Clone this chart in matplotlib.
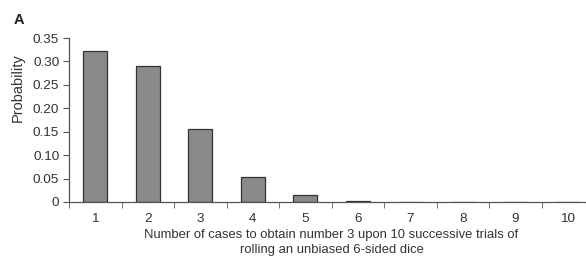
import numpy as np
import matplotlib.pyplot as plt
import matplotlib

matplotlib.rcParams['font.family'] = 'Liberation Sans'
matplotlib.rcParams.update({'font.size': 9.7})

cases = [1, 2, 3, 4, 5, 6, 7, 8, 9, 10]
probability = [0.323, 0.291, 0.156, 0.054, 0.014, 0.003, 0.001, 0.001, 0.001, 0.0]
y_ticks = [0, 0.05, 0.10, 0.15, 0.20, 0.25, 0.30, 0.35]
y_tick_labels = ['0', '0.05', '0.10', '0.15', '0.20', '0.25', '0.30', '0.35']

txt = '#333333'
fig = plt.figure(figsize=(5.86, 2.59), dpi=100)
ax = fig.add_axes([69 / 586, 57 / 259, 525 / 586, 164 / 259])

ax.bar(cases, probability, width=0.45, color='#8a8a8a', edgecolor='#333333', linewidth=0.9)

ax.set_xlim(0.5, 10.5)
ax.set_ylim(0, 0.35)
ax.set_xticks(cases)
ax.set_xticklabels([str(c) for c in cases], color=txt)
ax.set_xticks(np.arange(0.5, 10.6, 1), minor=True)
ax.tick_params(axis='x', which='major', length=0, pad=8)
ax.tick_params(axis='x', which='minor', length=4, direction='out', color='#555555')
ax.set_yticks(y_ticks)
ax.set_yticklabels(y_tick_labels, color=txt)
ax.tick_params(axis='y', length=4, direction='out', color='#555555', pad=3)

for s in ['top', 'right']:
    ax.spines[s].set_visible(False)
for s in ['left', 'bottom']:
    ax.spines[s].set_color('#555555')
    ax.spines[s].set_linewidth(0.9)

ax.set_ylabel('Probability', color=txt, fontsize=10.5)
ax.yaxis.set_label_coords(-0.084, 0.695)
ax.set_xlabel('Number of cases to obtain number 3 upon 10 successive trials of\nrolling an unbiased 6-sided dice',
              color=txt, fontsize=9.4, labelpad=3, linespacing=1.3)

fig.text(14 / 586, 1 - 20 / 259, 'A', fontsize=10.5, fontweight='bold', color='#222222', va='center')

fig.savefig('out.png', dpi=100)
